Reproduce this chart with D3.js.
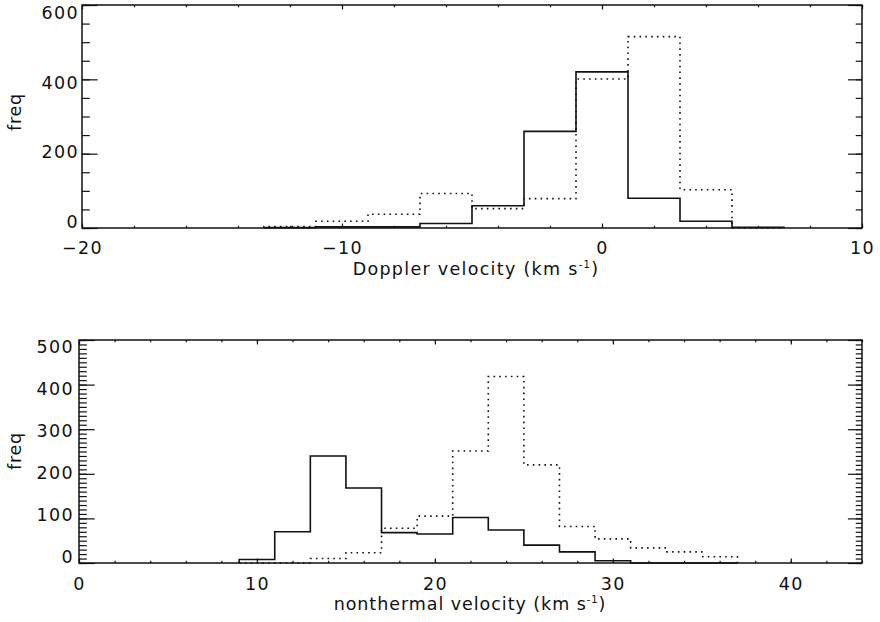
<!DOCTYPE html>
<html>
<head>
<meta charset="utf-8">
<script src="https://cdn.jsdelivr.net/npm/d3@7"></script>
<style>
  body { margin: 0; background: #fff; }
  svg { display: block; }
  text { font-family: "DejaVu Sans", sans-serif; fill: #111; }
</style>
</head>
<body>
<svg width="880" height="622"></svg>
<script>
// Doppler velocity histogram, bins of 2 km/s
var dopplerEdges = [-13, -11, -9, -7, -5, -3, -1, 1, 3, 5, 7];
var dopplerSolid = [1, 3, 3, 12, 60, 260, 420, 80, 18, 2];
var dopplerDotted = [4, 18, 37, 93, 52, 79, 401, 515, 103, 0];
var dopplerXTicks = [-20, -10, 0, 10];
var dopplerYTicks = [0, 200, 400, 600];

// nonthermal velocity histogram
var ntEdges = [9, 11, 13, 15, 17, 19, 21, 23, 25, 27, 29, 31, 33, 35, 37];
var ntSolid = [8, 70, 240, 168, 68, 65, 102, 74, 40, 25, 5, 0, 0, 0];
var ntDotted = [0, 0, 10, 23, 78, 105, 251, 418, 220, 82, 54, 34, 25, 14];
var ntXTicks = [0, 10, 20, 30, 40];
var ntYTicks = [0, 100, 200, 300, 400, 500];

var svg = d3.select("svg");

function panel(opt) {
    var x = d3.scaleLinear().domain(opt.xDomain).range([opt.left, opt.right]);
    var y = d3.scaleLinear().domain(opt.yDomain).range([opt.bottom, opt.top]);
    var g = svg.append("g");
    var w = opt.right - opt.left, h = opt.bottom - opt.top;

    var xMinor = d3.range(opt.xDomain[0], opt.xDomain[1] + 0.001, opt.xMinorStep);
    var yMinor = d3.range(opt.yDomain[0], opt.yDomain[1] + 0.001, opt.yMinorStep);

    // inward ticks on all four sides (IDL style)
    function tickSet(axisFn, scale, vals, len, tx, ty) {
        var a = g.append("g")
            .attr("transform", "translate(" + tx + "," + ty + ")")
            .call(axisFn(scale).tickValues(vals).tickSize(len).tickFormat(""));
        a.select(".domain").remove();
        a.selectAll("line").attr("stroke", "#111").attr("stroke-width", 1.2);
    }
    tickSet(d3.axisTop, x, xMinor, h * 0.01, 0, opt.bottom);
    tickSet(d3.axisTop, x, opt.xTicks, h * 0.02, 0, opt.bottom);
    tickSet(d3.axisBottom, x, xMinor, h * 0.01, 0, opt.top);
    tickSet(d3.axisBottom, x, opt.xTicks, h * 0.02, 0, opt.top);
    tickSet(d3.axisRight, y, yMinor, w * 0.01, opt.left, 0);
    tickSet(d3.axisRight, y, opt.yTicks, w * 0.02, opt.left, 0);
    tickSet(d3.axisLeft, y, yMinor, w * 0.008, opt.right, 0);
    tickSet(d3.axisLeft, y, opt.yTicks, w * 0.018, opt.right, 0);

    // frame
    g.append("rect")
        .attr("x", opt.left).attr("y", opt.top)
        .attr("width", w).attr("height", h)
        .attr("fill", "none").attr("stroke", "#111").attr("stroke-width", 1.5);

    // tick labels (the scanned labels sit slightly inside the tick span)
    var xl = g.append("g")
        .attr("transform", "translate(0," + opt.xLabelY + ")")
        .call(d3.axisBottom(x).tickValues(opt.xTicks).tickSize(0).tickPadding(0));
    var yLab = d3.scaleLinear().domain(opt.yDomain).range(opt.yLabelRange);
    var yl = g.append("g")
        .attr("transform", "translate(" + opt.yLabelX + ",0)")
        .call(d3.axisLeft(yLab).tickValues(opt.yTicks).tickSize(0).tickPadding(0));
    [xl, yl].forEach(function(a) {
        a.select(".domain").remove();
        a.selectAll("text")
            .attr("font-family", "DejaVu Sans, sans-serif")
            .attr("font-size", 17.5)
            .attr("letter-spacing", 1.4)
            .attr("fill", "#111");
    });

    // histograms
    function steps(edges, vals) {
        var pts = [[edges[0], 0]];
        vals.forEach(function(v, i) { pts.push([edges[i], v]); });
        pts.push([edges[edges.length - 1], vals[vals.length - 1]]);
        pts.push([edges[edges.length - 1], 0]);
        return pts;
    }
    var line = d3.line()
        .x(function(d) { return x(d[0]); })
        .y(function(d) { return y(d[1]); })
        .curve(d3.curveStepAfter);

    g.append("path")
        .attr("d", line(steps(opt.edges, opt.dotted)))
        .attr("fill", "none").attr("stroke", "#111")
        .attr("stroke-width", 1.6)
        .attr("stroke-dasharray", "1.6,4.2");
    g.append("path")
        .attr("d", line(steps(opt.edges, opt.solid)))
        .attr("fill", "none").attr("stroke", "#111")
        .attr("stroke-width", 1.6);

    // axis titles
    var t = g.append("text")
        .attr("x", opt.titleX).attr("y", opt.titleY)
        .attr("text-anchor", "middle")
        .attr("font-size", 17.5)
        .attr("letter-spacing", opt.titleSpacing);
    t.append("tspan").text(opt.title + " (km s");
    t.append("tspan").attr("font-size", 10).attr("dy", -7).text("-1");
    t.append("tspan").attr("dy", 7).text(")");

    g.append("text")
        .attr("transform", "translate(" + 21 + "," + opt.freqY + ") rotate(-90)")
        .attr("text-anchor", "middle")
        .attr("font-size", 17.5)
        .attr("letter-spacing", 0.8)
        .text("freq");
}

panel({
    left: 82, right: 862, top: 5, bottom: 228,
    xDomain: [-20, 10], yDomain: [0, 600],
    xTicks: dopplerXTicks, yTicks: dopplerYTicks,
    xMinorStep: 2, yMinorStep: 50,
    edges: dopplerEdges, solid: dopplerSolid, dotted: dopplerDotted,
    xLabelY: 242, yLabelX: 79, yLabelRange: [222, 13],
    title: "Doppler velocity", titleX: 476, titleY: 275, titleSpacing: 1.3, freqY: 112
});

panel({
    left: 79, right: 862, top: 340, bottom: 563,
    xDomain: [0, 44], yDomain: [0, 500],
    xTicks: ntXTicks, yTicks: ntYTicks,
    xMinorStep: 2, yMinorStep: 10,
    edges: ntEdges, solid: ntSolid, dotted: ntDotted,
    xLabelY: 578, yLabelX: 74, yLabelRange: [557, 347],
    title: "nonthermal velocity", titleX: 470, titleY: 610, titleSpacing: 0.95, freqY: 451
});
</script>
</body>
</html>
